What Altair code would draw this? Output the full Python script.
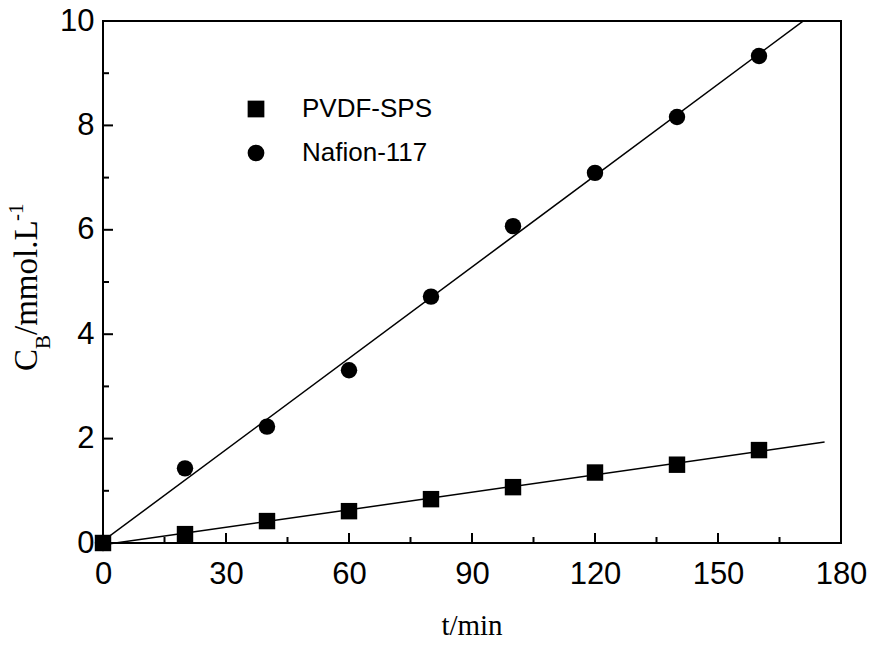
import altair as alt
import pandas as pd

# ---- data ----
t_min = [0, 20, 40, 60, 80, 100, 120, 140, 160]
pvdf_sps = [0.0, 0.17, 0.42, 0.61, 0.84, 1.07, 1.35, 1.50, 1.78]
nafion_117 = [0.0, 1.43, 2.23, 3.31, 4.72, 6.07, 7.09, 8.16, 9.33]
series_names = ["PVDF-SPS", "Nafion-117"]
x_major = [0, 30, 60, 90, 120, 150, 180]
x_minor = [15, 45, 75, 105, 135, 165]
y_major = [0, 2, 4, 6, 8, 10]
y_minor = [1, 3, 5, 7, 9]

df = pd.DataFrame({
    "t": t_min + t_min,
    "series": [series_names[0]] * len(t_min) + [series_names[1]] * len(t_min),
    "c": pvdf_sps + nafion_117,
})

W, H = 738, 522
SANS = "Liberation Sans"
SERIF = "Liberation Serif"
xs = alt.Scale(domain=[0, 180], nice=False, zero=False)
ys = alt.Scale(domain=[0, 10], nice=False, zero=False)

x_axis = alt.Axis(values=x_major, title=None, ticks=False, domain=False, grid=False,
                  labelFontSize=31, labelFont=SANS, labelColor="black", labelPadding=16,
                  labelFlush=False, labelOverlap=False)
y_axis = alt.Axis(values=y_major, title=None, ticks=False, domain=False, grid=False,
                  labelFontSize=31, labelFont=SANS, labelColor="black", labelPadding=9,
                  labelFlush=False, labelOverlap=False)

points = alt.Chart(df).mark_point(filled=True, opacity=1, color="black", size=270).encode(
    x=alt.X("t:Q", scale=xs, axis=x_axis),
    y=alt.Y("c:Q", scale=ys, axis=y_axis),
    shape=alt.Shape("series:N", scale=alt.Scale(domain=series_names, range=["square", "circle"]),
                    legend=alt.Legend(title=None, orient="none", legendX=140, legendY=75,
                                      labelFontSize=26, labelFont=SANS, labelColor="black",
                                      symbolSize=280, symbolFillColor="black",
                                      symbolStrokeColor="black", symbolOpacity=1,
                                      labelOffset=33, rowPadding=18, padding=0)),
)

line_p = alt.Chart(df).transform_filter(alt.datum.series == series_names[0]).transform_regression(
    "t", "c", extent=[0, 176]).mark_line(color="black", strokeWidth=1.5).encode(
    x=alt.X("t:Q", scale=xs, axis=x_axis), y=alt.Y("c:Q", scale=ys, axis=y_axis))

line_n = alt.Chart(df).transform_filter(alt.datum.series == series_names[1]).transform_regression(
    "t", "c", extent=[0, 180]).mark_line(color="black", strokeWidth=1.5, clip=True).encode(
    x=alt.X("t:Q", scale=xs, axis=x_axis), y=alt.Y("c:Q", scale=ys, axis=y_axis))


def x_ticks(vals, length):
    return alt.Chart(pd.DataFrame({"t": vals})).mark_rule(color="black", strokeWidth=2).encode(
        x=alt.X("t:Q", scale=xs, axis=x_axis), y=alt.value(H), y2=alt.value(H - length))


def y_ticks(vals, length):
    return alt.Chart(pd.DataFrame({"c": vals})).mark_rule(color="black", strokeWidth=2).encode(
        y=alt.Y("c:Q", scale=ys, axis=y_axis), x=alt.value(0), x2=alt.value(length))


def label(text, x, y, size, angle=0, align="left", baseline="alphabetic"):
    return alt.Chart(alt.Data(values=[{}])).mark_text(
        text=text, font=SERIF, fontSize=size, color="black", angle=angle,
        align=align, baseline=baseline).encode(x=alt.value(x), y=alt.value(y))


# y title: C_B/mmol.L^-1 (rotated)
y0 = 350
yt = [
    label("C", -66, y0, 33, angle=270),
    label("B", -53, y0 - 22, 21, angle=270),
    label("/mmol.L", -66, y0 - 36, 33, angle=270),
    label("-1", -80, y0 - 150, 21, angle=270),
]
xt = label("t/min", W / 2, 614, 29, align="center")

chart = alt.layer(
    points, line_p, line_n,
    x_ticks(x_major, 10), x_ticks(x_minor, 6), y_ticks(y_major, 10), y_ticks(y_minor, 6),
    xt, *yt,
).properties(
    width=W, height=H, autosize="none", background="white",
    padding={"left": 103, "top": 21, "right": 30, "bottom": 103},
).configure_view(stroke="black", strokeWidth=2)

chart.save("out.html", embed_options={"renderer": "svg", "actions": False})
